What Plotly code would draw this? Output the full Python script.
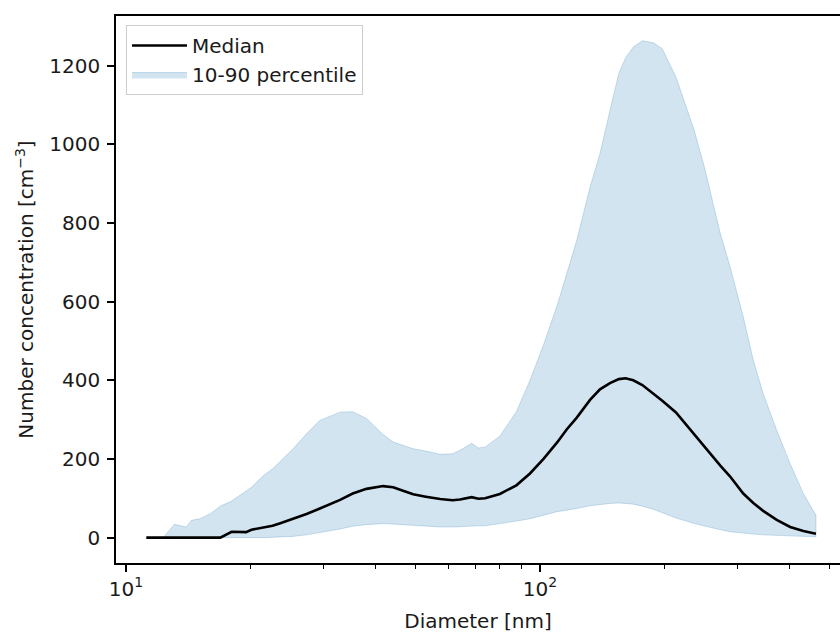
import plotly.graph_objects as go

# Diameter grid [nm]
diameter = [11.2, 12.3, 13.1, 14.0, 14.4, 15.1, 16.0, 16.9, 18.0, 19.5, 20.1, 21.5,
            22.6, 23.5, 25.3, 27.3, 29.4, 32.9, 35.3, 38.1, 41.8, 44.2, 46.7, 49.4,
            53.0, 57.4, 61.5, 64.1, 68.4, 71.0, 73.7, 80.0, 87.7, 94.6, 102.0, 110.0,
            116.0, 122.7, 132.1, 139.6, 147.6, 155.0, 161.0, 168.0, 176.7, 187.8, 197.4,
            213.0, 235.6, 249.5, 262.2, 272.6, 287.6, 309.7, 327.5, 346.0, 373.0,
            402.0, 432.6, 464.0]

median = [0, 0, 0, 0, 0, 0, 0, 0, 15, 14, 20, 25,
          30, 36, 47, 60, 74, 96, 112, 124, 131, 128, 119, 110,
          104, 98, 95, 97, 103, 99, 100, 111, 133, 163, 200, 242,
          275, 305, 350, 377, 393, 403, 405, 400, 388, 366, 348,
          318, 262, 232, 205, 183, 156, 112, 88, 68, 45,
          27, 17, 10]

p10 = [0, 0, 0, 0, 0, 0, 0, 0, 0, 0, 0, 0,
       0, 1, 3, 7, 13, 22, 29, 33, 36, 35, 34, 31,
       29, 27, 27, 27, 29, 30, 30, 36, 42, 48, 57, 66,
       70, 74, 81, 84, 87, 88, 87, 85, 80, 72, 64,
       50, 36, 29, 24, 20, 15, 11, 9, 7, 6,
       4, 3, 2]

p90 = [0, 0, 34, 27, 44, 48, 61, 80, 93, 118, 128, 158,
       175, 192, 225, 264, 298, 319, 320, 303, 262, 243, 234, 226,
       220, 212, 213, 222, 240, 228, 230, 258, 320, 400, 490, 590,
       670, 756, 891, 976, 1086, 1180, 1220, 1247, 1263, 1258, 1243,
       1171, 1036, 942, 847, 773, 690, 561, 451, 366, 273,
       188, 112, 57]

x_major = [10, 100]
x_major_text = ["10<sup>1</sup>", "10<sup>2</sup>"]
x_minor = [20, 30, 40, 50, 60, 70, 80, 90, 200, 300, 400, 500]
y_ticks = [0, 200, 400, 600, 800, 1000, 1200]

FONT = "DejaVu Sans"
FS = 20

fig = go.Figure()

band_x = list(diameter) + list(reversed(diameter))
band_y = list(p90) + list(reversed(p10))
fig.add_trace(go.Scatter(
    x=band_x, y=band_y, mode="lines", fill="toself",
    fillcolor="rgba(31,119,180,0.2)",
    line=dict(color="rgba(31,119,180,0.22)", width=1),
    name="10-90 percentile", legendrank=2, hoverinfo="skip"))

fig.add_trace(go.Scatter(
    x=diameter, y=median, mode="lines",
    line=dict(color="black", width=2.6),
    name="Median", legendrank=1))

fig.update_layout(
    width=840, height=633,
    margin=dict(l=116, r=0, t=16, b=70),
    paper_bgcolor="white", plot_bgcolor="white",
    font=dict(family=FONT, size=FS, color="#1a1a1a"),
    showlegend=True,
    legend=dict(x=0.0138, y=0.9835, xanchor="left", yanchor="top",
                itemwidth=55,
                bgcolor="rgba(255,255,255,0.8)", bordercolor="#cccccc",
                borderwidth=1, font=dict(family=FONT, size=FS, color="#1a1a1a")),
    xaxis=dict(type="log", range=[0.976, 2.7246],
               showline=True, linecolor="black", linewidth=1.6, mirror=True,
               showgrid=False, zeroline=False,
               ticks="outside", ticklen=7, tickwidth=1.6, tickcolor="black",
               tickvals=x_major, ticktext=x_major_text,
               minor=dict(ticks="outside", ticklen=4, tickwidth=1.2,
                          tickcolor="black", tickvals=x_minor, showgrid=False),
               title=dict(text="Diameter [nm]", standoff=16,
                          font=dict(family=FONT, size=FS))),
    yaxis=dict(range=[-64.5, 1326],
               showline=True, linecolor="black", linewidth=1.6, mirror=False,
               showgrid=False, zeroline=False,
               ticks="outside", ticklen=7, tickwidth=1.6, tickcolor="black",
               tickvals=y_ticks, ticklabelstandoff=3,
               title=dict(text="Number concentration [cm<sup>\u22123</sup>]",
                          standoff=10, font=dict(family=FONT, size=FS))),
)

fig.write_html("out.html")
